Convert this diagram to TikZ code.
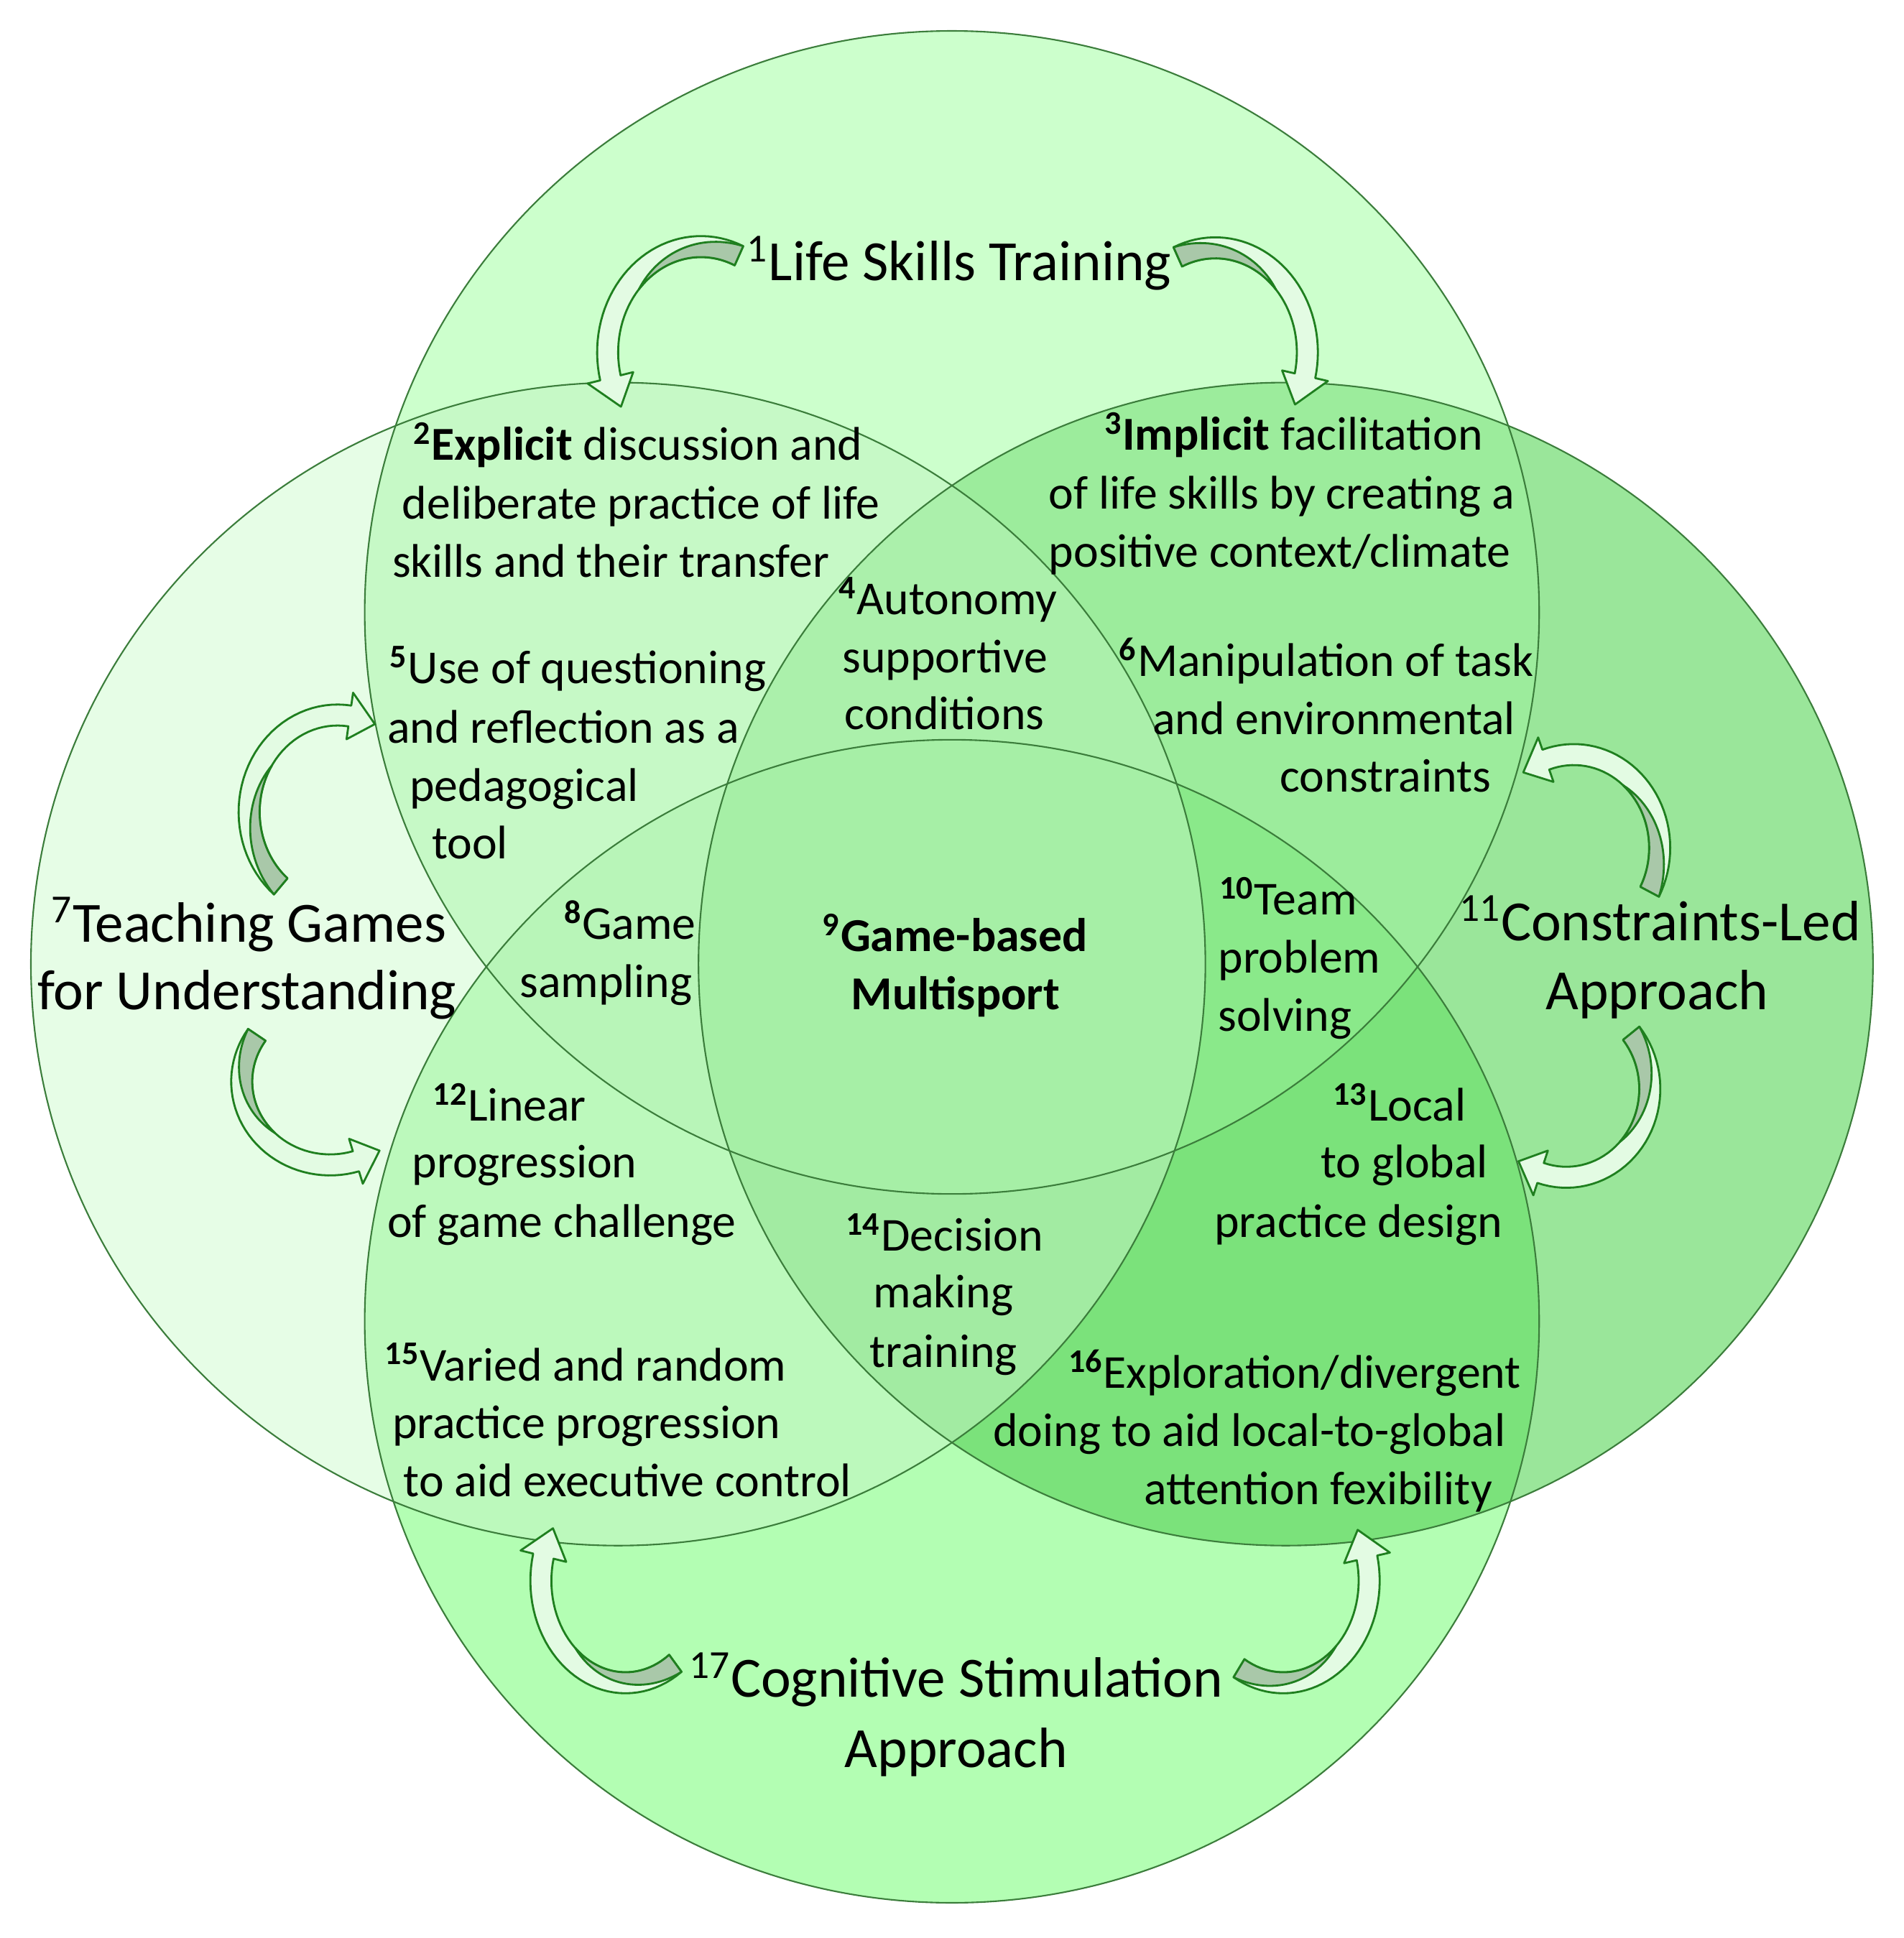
\documentclass[tikz,border=0pt]{standalone}
\usepackage{fontspec}
\setmainfont{Carlito}
\definecolor{colT}{HTML}{CCFFCC}
\definecolor{colL}{HTML}{E6FDE6}
\definecolor{colR}{HTML}{9AE69A}
\definecolor{colB}{HTML}{B3FEB3}
\definecolor{colTL}{HTML}{C6F9C6}
\definecolor{colTR}{HTML}{9CEC9C}
\definecolor{colLB}{HTML}{BCF9BC}
\definecolor{colRB}{HTML}{7BE27B}
\definecolor{colTLR}{HTML}{ABF0AB}
\definecolor{colTLB}{HTML}{B8F5B8}
\definecolor{colTRB}{HTML}{8AE98A}
\definecolor{colLRB}{HTML}{A2EBA2}
\definecolor{colAll}{HTML}{A6EFA6}
\definecolor{circline}{HTML}{3B7D3B}
\definecolor{arrLine}{HTML}{1F7F1F}
\definecolor{arrLight}{HTML}{E3FBE3}
\definecolor{arrGrey}{HTML}{A9C8A9}
\tikzset{
  lbltext/.style={anchor=base west, inner sep=0pt, font=\fontsize{18.7}{22}\selectfont, text=black},
  bigtext/.style={anchor=base west, inner sep=0pt, font=\fontsize{22.5}{27}\selectfont, text=black},
  circoutline/.style={draw=circline, line width=0.6pt},
  arrowlight/.style={fill=arrLight, draw=arrLine, line width=0.8pt, line join=round},
  arrowgrey/.style={fill=arrGrey, draw=arrLine, line width=0.8pt, line join=round},
}
% #1 cx, #2 cy, #3 rx, #4 ry, #5 tail angle, #6 tip angle
\newcommand{\CurvArrow}[6]{%
  \pgfmathsetmacro{\caS}{#6-(#5)}%
  \pgfmathsetmacro{\caD}{\caS/abs(\caS)}%
  \pgfmathsetmacro{\caH}{#6-17*\caD}%
  \pgfmathsetmacro{\caG}{#5+0.5*\caS}%
  \pgfmathsetmacro{\caXo}{#3}\pgfmathsetmacro{\caYo}{#4}%
  \pgfmathsetmacro{\caXi}{#3-17}\pgfmathsetmacro{\caYi}{#4-17}%
  \pgfmathsetmacro{\caXm}{#3-8.5}\pgfmathsetmacro{\caYm}{#4-8.5}%
  \filldraw[arrowlight] plot[domain=#5:\caH, samples=40, variable=\t] ({#1+\caXo*cos(\t)},{#2+\caYo*sin(\t)})
    -- ({#1+(\caXm+19)*cos(\caH)},{#2+(\caYm+19)*sin(\caH)})
    -- ({#1+\caXm*cos(#6)},{#2+\caYm*sin(#6)})
    -- ({#1+(\caXm-19)*cos(\caH)},{#2+(\caYm-19)*sin(\caH)})
    -- plot[domain=\caH:#5, samples=40, variable=\t] ({#1+\caXi*cos(\t)},{#2+\caYi*sin(\t)})
    -- cycle;
  \filldraw[arrowgrey] plot[domain=#5:\caG, samples=30, variable=\t]
      ({#1+(\caXo-17*(\t-(#5))/(\caG-(#5)))*cos(\t)},{#2+(\caYo-17*(\t-(#5))/(\caG-(#5)))*sin(\t)})
    -- plot[domain=\caG:#5, samples=30, variable=\t] ({#1+\caXi*cos(\t)},{#2+\caYi*sin(\t)})
    -- cycle;
}
\begin{document}
\begin{tikzpicture}[x={(0.0172cm,0)}, y={(0,-0.0172cm)}]
\useasboundingbox (0,0) rectangle (1540,1568);
\fill[white] (0,0) rectangle (1540,1568);
% single circles
\fill[colT] (770,495.5) ellipse [x radius=475, y radius=470.5];
\fill[colL] (500,780) ellipse [x radius=475, y radius=470.5];
\fill[colR] (1040,780) ellipse [x radius=475, y radius=470.5];
\fill[colB] (770,1069) ellipse [x radius=475, y radius=470.5];
% pairs
\begin{scope}
  \clip (770,495.5) ellipse [x radius=475, y radius=470.5];
  \fill[colTL] (500,780) ellipse [x radius=475, y radius=470.5];
\end{scope}
\begin{scope}
  \clip (770,495.5) ellipse [x radius=475, y radius=470.5];
  \fill[colTR] (1040,780) ellipse [x radius=475, y radius=470.5];
\end{scope}
\begin{scope}
  \clip (770,1069) ellipse [x radius=475, y radius=470.5];
  \fill[colLB] (500,780) ellipse [x radius=475, y radius=470.5];
\end{scope}
\begin{scope}
  \clip (770,1069) ellipse [x radius=475, y radius=470.5];
  \fill[colRB] (1040,780) ellipse [x radius=475, y radius=470.5];
\end{scope}
% triples
\begin{scope}
  \clip (770,495.5) ellipse [x radius=475, y radius=470.5];
  \clip (500,780) ellipse [x radius=475, y radius=470.5];
  \fill[colTLR] (1040,780) ellipse [x radius=475, y radius=470.5];
\end{scope}
\begin{scope}
  \clip (770,495.5) ellipse [x radius=475, y radius=470.5];
  \clip (500,780) ellipse [x radius=475, y radius=470.5];
  \fill[colTLB] (770,1069) ellipse [x radius=475, y radius=470.5];
\end{scope}
\begin{scope}
  \clip (770,495.5) ellipse [x radius=475, y radius=470.5];
  \clip (1040,780) ellipse [x radius=475, y radius=470.5];
  \fill[colTRB] (770,1069) ellipse [x radius=475, y radius=470.5];
\end{scope}
\begin{scope}
  \clip (500,780) ellipse [x radius=475, y radius=470.5];
  \clip (1040,780) ellipse [x radius=475, y radius=470.5];
  \fill[colLRB] (770,1069) ellipse [x radius=475, y radius=470.5];
\end{scope}
% all four
\begin{scope}
  \clip (770,495.5) ellipse [x radius=475, y radius=470.5];
  \clip (500,780) ellipse [x radius=475, y radius=470.5];
  \clip (1040,780) ellipse [x radius=475, y radius=470.5];
  \fill[colAll] (770,1069) ellipse [x radius=475, y radius=470.5];
\end{scope}
% outlines
\draw[circoutline] (770,495.5) ellipse [x radius=475, y radius=470.5];
\draw[circoutline] (500,780) ellipse [x radius=475, y radius=470.5];
\draw[circoutline] (1040,780) ellipse [x radius=475, y radius=470.5];
\draw[circoutline] (770,1069) ellipse [x radius=475, y radius=470.5];
% curved arrows
\CurvArrow{567}{285}{84}{94}{-66}{-211}
\CurvArrow{983}{285}{83}{93}{-114}{30}
\CurvArrow{273}{657}{80}{87}{130}{295}
\CurvArrow{267}{875}{80}{76}{214}{56}
\CurvArrow{1273}{686}{78}{84}{28}{-126}
\CurvArrow{1267}{881}{76}{80}{-39}{125}
\CurvArrow{506}{1279}{77}{91}{54}{211}
\CurvArrow{1038}{1279}{78}{91}{121}{-30}
% texts
\node[bigtext] (t1) at (604,227) {\textsuperscript{1}Life Skills Training};
\node[lbltext] (t2a) at (334,372) {\textsuperscript{\bfseries 2}\textbf{Explicit} discussion and};
\node[lbltext] (t2b) at (325,420) {deliberate practice of life};
\node[lbltext] (t2c) at (317,467) {skills and their transfer};
\node[lbltext] (t3a) at (893,364) {\textsuperscript{\bfseries 3}\textbf{Implicit} facilitation};
\node[lbltext] (t3b) at (848,412) {of life skills by creating a};
\node[lbltext] (t3c) at (848,459) {positive context/climate};
\node[lbltext] (t4a) at (678,497) {\textsuperscript{\bfseries 4}Autonomy};
\node[lbltext] (t4b) at (681,544) {supportive};
\node[lbltext] (t4c) at (683,590) {conditions};
\node[lbltext] (t5a) at (315,553) {\textsuperscript{\bfseries 5}Use of questioning};
\node[lbltext] (t5b) at (313,601) {and reflection as a};
\node[lbltext] (t5c) at (331,648) {pedagogical};
\node[lbltext] (t5d) at (349,695) {tool};
\node[lbltext] (t6a) at (905,547) {\textsuperscript{\bfseries 6}Manipulation of task};
\node[lbltext] (t6b) at (932,594) {and environmental};
\node[lbltext] (t6c) at (1035,641) {constraints};
\node[bigtext] (t7a) at (41,762) {\textsuperscript{7}Teaching Games};
\node[bigtext] (t7b) at (30,817) {for Understanding};
\node[lbltext] (t8a) at (456,760) {\textsuperscript{\bfseries 8}Game};
\node[lbltext] (t8b) at (420,807) {sampling};
\node[lbltext] (t9a) at (665,770) {\textbf{\textsuperscript{9}Game-based}};
\node[lbltext] (t9b) at (688,817) {\textbf{Multisport}};
\node[lbltext] (t10a) at (986,740) {\textsuperscript{\bfseries 10}Team};
\node[lbltext] (t10b) at (985,787) {problem};
\node[lbltext] (t10c) at (985,834) {solving};
\node[bigtext] (t11a) at (1180,761) {\textsuperscript{11}Constraints-Led};
\node[bigtext] (t11b) at (1250,817) {Approach};
\node[lbltext] (t12a) at (350,907) {\textsuperscript{\bfseries 12}Linear};
\node[lbltext] (t12b) at (333,953) {progression};
\node[lbltext] (t12c) at (313,1001) {of game challenge};
\node[lbltext] (t13a) at (1078,907) {\textsuperscript{\bfseries 13}Local};
\node[lbltext] (t13b) at (1068,953) {to global};
\node[lbltext] (t13c) at (982,1001) {practice design};
\node[lbltext] (t14a) at (684,1012) {\textsuperscript{\bfseries 14}Decision};
\node[lbltext] (t14b) at (706,1058) {making};
\node[lbltext] (t14c) at (703,1106) {training};
\node[lbltext] (t15a) at (311,1117) {\textsuperscript{\bfseries 15}Varied and random};
\node[lbltext] (t15b) at (317,1164) {practice progression};
\node[lbltext] (t15c) at (326,1211) {to aid executive control};
\node[lbltext] (t16a) at (864,1123) {\textsuperscript{\bfseries 16}Exploration/divergent};
\node[lbltext] (t16b) at (803,1170) {doing to aid local-to-global};
\node[lbltext] (t16c) at (925,1217) {attention fexibility};
\node[bigtext] (t17a) at (557,1373) {\textsuperscript{17}Cognitive Stimulation};
\node[bigtext] (t17b) at (683,1430) {Approach};
\end{tikzpicture}
\end{document}
